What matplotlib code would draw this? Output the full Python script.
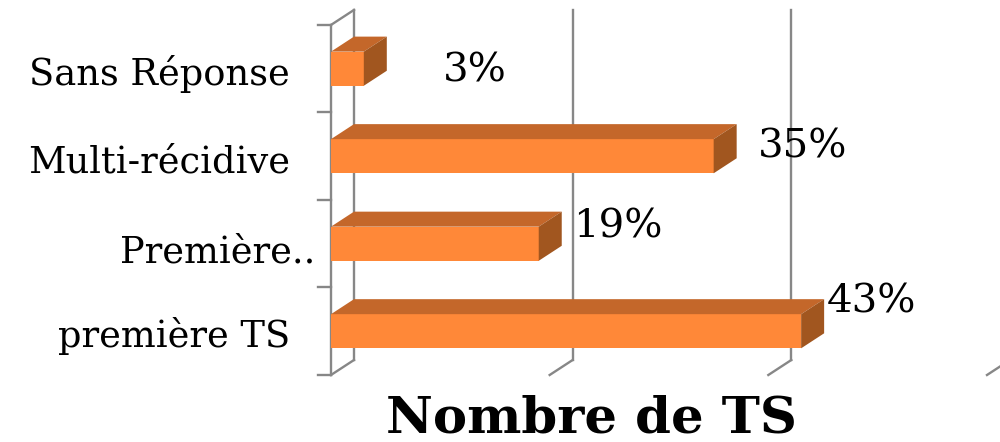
import matplotlib
matplotlib.use("Agg")
import matplotlib.pyplot as plt
from matplotlib.patches import Polygon

# données (en %)
categories = ["première TS", "Première..", "Multi-récidive", "Sans Réponse"]
valeurs = [43, 19, 35, 3]
etiquettes = ["43%", "19%", "35%", "3%"]
graduations = [0, 20, 40, 60]

# couleurs façon Excel 3D
c_face = "#FF8838"
c_dessus = "#C4672A"
c_cote = "#A1561F"
c_grille = "#878787"

fig = plt.figure(figsize=(10, 4.42), dpi=100)
ax = fig.add_axes([0.331, 0.1516, 0.656, 0.792])
ax.set_xlim(0, 60)
ax.set_ylim(-0.5, 3.5)
ax.axis("off")

# profondeur 3D (pixels -> données)
dx = 23 * 60 / 656
dy = 15 * 4 / 350
h = 0.39
y0, y1 = -0.5, 3.5

# murs et grille
for g in graduations:
    ax.plot([g + dx, g + dx], [y0 + dy, y1 + dy], color=c_grille, lw=1.7, clip_on=False, zorder=1)
    ax.plot([g, g + dx], [y0, y0 + dy], color=c_grille, lw=1.7, clip_on=False, zorder=1)
ax.plot([0, 0], [y0, y1], color=c_grille, lw=1.7, clip_on=False, zorder=1)
ax.plot([0, dx], [y1, y1 + dy], color=c_grille, lw=1.7, clip_on=False, zorder=1)
for k in range(5):
    ax.plot([-1.2, 0], [y0 + k, y0 + k], color=c_grille, lw=1.7, clip_on=False, zorder=1)

# barres 3D
pos = list(range(len(categories)))
ax.barh(pos, valeurs, height=h, color=c_face, zorder=3, clip_on=False)
for y, v in zip(pos, valeurs):
    haut = y + h / 2
    bas = y - h / 2
    ax.add_patch(Polygon([(0, haut), (v, haut), (v + dx, haut + dy), (dx, haut + dy)],
                         closed=True, facecolor=c_dessus, edgecolor="none", zorder=3, clip_on=False))
    ax.add_patch(Polygon([(v, bas), (v, haut), (v + dx, haut + dy), (v + dx, bas + dy)],
                         closed=True, facecolor=c_cote, edgecolor="none", zorder=3, clip_on=False))

decalages = [(2.3, 0.21), (3.1, 0.066), (4.0, -0.01), (7.2, -0.15)]
for y, v, t, (ox, oy) in zip(pos, valeurs, etiquettes, decalages):
    ax.text(v + ox, y + oy, t, fontsize=29, family="DejaVu Serif",
            ha="left", va="baseline", clip_on=False)

# libellés des catégories
decal_lib = [(-3.75, -0.18), (-1.46, -0.21), (-3.75, -0.19), (-3.75, -0.186)]
for y, t, (ox, oy) in zip(pos, categories, decal_lib):
    ax.text(ox, y + oy, t, fontsize=26.5, family="DejaVu Serif",
            ha="right", va="baseline", clip_on=False)

fig.text(0.591, 0.0204, "Nombre de TS", fontsize=37, family="DejaVu Serif",
         fontweight="bold", ha="center", va="baseline")

fig.savefig("out.png", dpi=100)
